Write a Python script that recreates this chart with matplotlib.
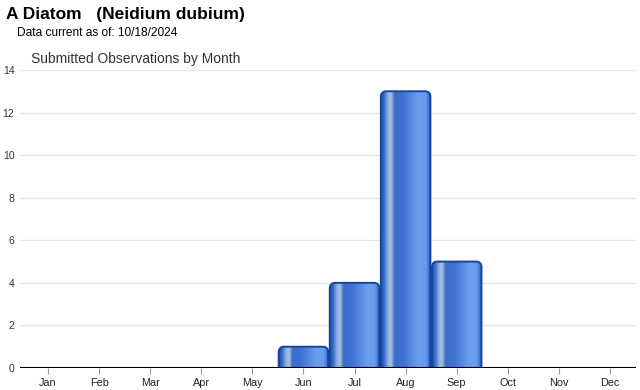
import numpy as np
import matplotlib
matplotlib.use("Agg")
import matplotlib.pyplot as plt
from matplotlib.patches import FancyBboxPatch
from matplotlib.colors import to_rgb

months = ["Jan", "Feb", "Mar", "Apr", "May", "Jun", "Jul", "Aug", "Sep", "Oct", "Nov", "Dec"]
counts = [0, 0, 0, 0, 0, 1, 4, 13, 5, 0, 0, 0]
yticks = [0, 2, 4, 6, 8, 10, 12, 14]

plt.rcParams['font.family'] = ['Liberation Sans', 'DejaVu Sans']

W, H = 640, 390
fig = plt.figure(figsize=(W / 100, H / 100), dpi=100)
left_px, right_px, top_px, bot_px = 20, 636, 70, 368
ax = fig.add_axes([left_px / W, (H - bot_px) / H, (right_px - left_px) / W, (bot_px - top_px) / H])

px_per_x = 51.1
xl = -0.5 - 2.5 / px_per_x
xr = 11.5 + 0.5 / px_per_x
ax.set_xlim(xl, xr)
ax.set_ylim(0, 14)
px_per_y = (bot_px - top_px) / 14

for s in ax.spines.values():
    s.set_visible(False)
ax.set_yticks(yticks)
ax.yaxis.grid(True, color="#e6e6e6", linewidth=1)
ax.set_axisbelow(True)
ax.tick_params(axis="y", length=0, labelsize=7.5, colors="#333333", pad=4)
ax.set_xticks(range(len(months)))
ax.set_xticklabels(months)
ax.tick_params(axis="x", length=4, width=0.8, color="#999999", labelsize=7.8, labelcolor="#222222", pad=3)

# horizontal gradient profile
stops = [(0.0, "#1d4db0"), (0.06, "#3a6cc8"), (0.14, "#8fb0e0"), (0.2, "#a9c0e4"),
         (0.27, "#3c6cc8"), (0.45, "#3f72d4"), (0.75, "#6c9ef0"), (0.9, "#6a9cec"),
         (1.0, "#2a5ac0")]
N = 100
xs = np.linspace(0, 1, N)
pos = [p for p, _ in stops]
cols = np.array([to_rgb(c) for _, c in stops])
grad = np.stack([np.interp(xs, pos, cols[:, k]) for k in range(3)], axis=-1)[None, :, :]

width = 0.97
r_x = 5.5 / px_per_x
r_y = 5.5 / px_per_y
for i, v in enumerate(counts):
    if v <= 0:
        continue
    x0 = i - width / 2
    patch = FancyBboxPatch((x0, -0.6), width, v + 0.6,
                           boxstyle=f"round,pad=0,rounding_size={r_x}",
                           mutation_aspect=r_y / r_x,
                           facecolor="none", edgecolor="#1644a0", linewidth=1.4, zorder=3)
    ax.add_patch(patch)
    im = ax.imshow(grad, extent=[x0, x0 + width, 0, v], aspect="auto",
                   interpolation="bilinear", zorder=2)
    im.set_clip_path(patch)
ax.set_xlim(xl, xr)
ax.set_ylim(0, 14)

ax.axhline(0, color="black", linewidth=1.5, zorder=5)

fig.text(6 / W, 1 - 19 / H, "A Diatom   (Neidium dubium)", fontsize=12.5, fontweight="bold",
         color="black", va="baseline", ha="left")
fig.text(17 / W, 1 - 36 / H, "Data current as of: 10/18/2024", fontsize=8.6,
         color="black", va="baseline", ha="left")
fig.text(31 / W, 1 - 63 / H, "Submitted Observations by Month", fontsize=10,
         color="#333333", va="baseline", ha="left")

fig.savefig("out.png", dpi=100)
